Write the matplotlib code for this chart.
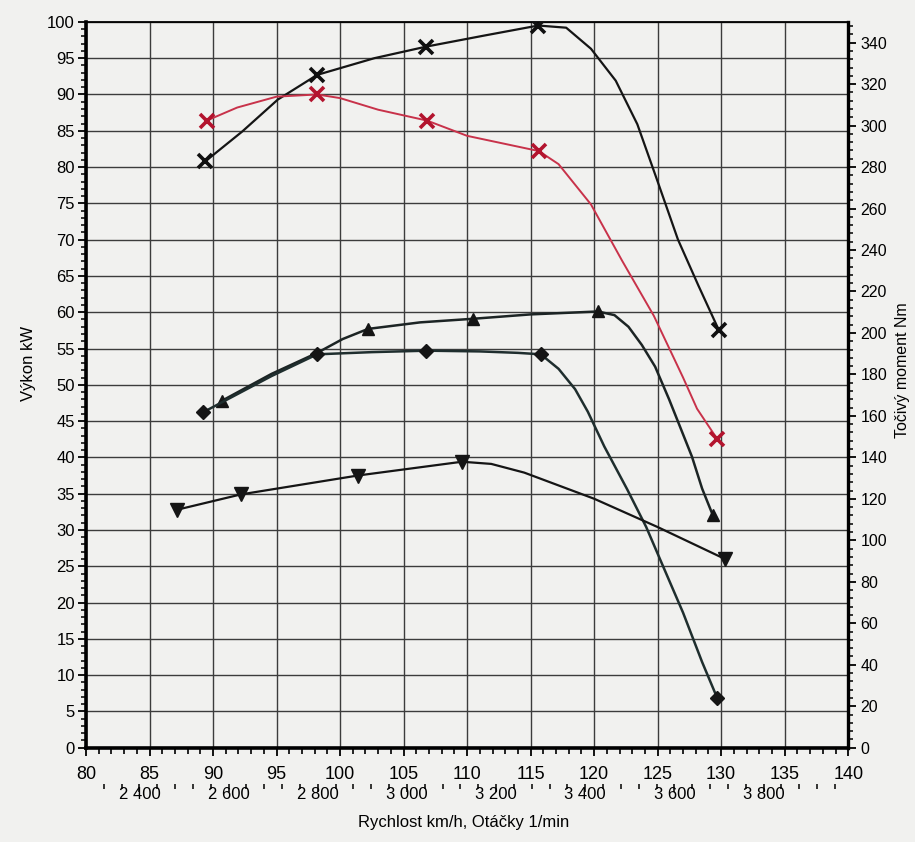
import numpy as np
import matplotlib.pyplot as plt
from matplotlib.ticker import MultipleLocator, FixedLocator, FuncFormatter

plt.rcParams['font.family'] = ['Liberation Sans', 'DejaVu Sans']

# speed (km/h) -> engine speed (1/min)
RPM_PER_KMH = 28.5

# curve with black x markers
blackx_v = [89.4, 92.3, 95.1, 98.2, 102.7, 106.8, 111.3, 115.6, 117.8, 119.75,
            121.7, 123.4, 125.0, 126.6, 128.2, 129.8]
blackx_p = [80.8, 84.9, 89.3, 92.7, 95.0, 96.6, 98.1, 99.5, 99.2, 96.3,
            91.9, 85.9, 78.0, 70.0, 63.7, 57.6]
blackx_marks = [0, 3, 5, 7, 15]

# curve with red x markers
redx_v = [89.5, 91.9, 95.0, 98.2, 100.0, 103.0, 106.85, 110.0, 115.65, 117.2,
          119.75, 122.2, 124.7, 127.0, 128.1, 129.7]
redx_p = [86.4, 88.2, 89.7, 90.0, 89.5, 87.9, 86.4, 84.3, 82.2, 80.4,
          74.85, 67.1, 59.5, 51.0, 46.7, 42.5]
redx_marks = [0, 3, 6, 8, 15]

# curve with triangle-up markers
triup_v = [90.7, 94.6, 98.2, 100.2, 102.2, 106.3, 110.5, 115.0, 120.3, 121.6,
           122.7, 123.75, 124.8, 125.9, 127.7, 128.5, 129.35]
triup_p = [47.8, 51.5, 54.4, 56.3, 57.7, 58.6, 59.1, 59.7, 60.1, 59.6,
           58.0, 55.5, 52.5, 48.0, 40.1, 35.7, 32.0]
triup_marks = [0, 4, 6, 8, 16]

# curve with diamond markers
diam_v = [89.2, 94.6, 98.2, 102.5, 106.8, 111.0, 114.0, 115.8, 117.2, 118.5,
          119.5, 120.8, 122.6, 124.1, 125.4, 127.0, 128.5, 129.7]
diam_p = [46.2, 51.2, 54.2, 54.5, 54.7, 54.6, 54.4, 54.2, 52.2, 49.4,
          46.3, 41.5, 35.6, 30.4, 25.1, 18.6, 11.8, 6.8]
diam_marks = [0, 2, 4, 7, 17]

# curve with triangle-down markers
tridn_v = [87.2, 92.2, 101.4, 109.6, 111.9, 114.5, 120.0, 125.0, 130.3]
tridn_p = [32.8, 34.9, 37.5, 39.4, 39.1, 37.9, 34.3, 30.4, 26.0]
tridn_marks = [0, 1, 2, 3, 8]

rpm_major = [2400, 2600, 2800, 3000, 3200, 3400, 3600, 3800]
rpm_minor = [r for r in range(2320, 3961, 40) if r not in rpm_major]

paper = '#f1f1ef'
fig = plt.figure(figsize=(9.15, 8.42), dpi=100, facecolor=paper)
ax = fig.add_axes([0.094, 0.112, 0.833, 0.862], facecolor=paper)

ax.plot(blackx_v, blackx_p, color='#151515', lw=1.6, marker='x', markevery=blackx_marks,
        ms=10, mew=2.6, mec='#101010', zorder=4)
ax.plot(redx_v, redx_p, color='#c8324a', lw=1.4, marker='x', markevery=redx_marks,
        ms=10, mew=2.6, mec='#b3142e', zorder=4)
ax.plot(triup_v, triup_p, color='#1c2424', lw=1.8, marker='^', markevery=triup_marks,
        ms=9, mfc='#151515', mec='#151515', zorder=4)
ax.plot(diam_v, diam_p, color='#1f2e2e', lw=1.8, marker='D', markevery=diam_marks,
        ms=7, mfc='#151515', mec='#151515', zorder=4)
ax.plot(tridn_v, tridn_p, color='#151515', lw=1.6, marker='v', markevery=tridn_marks,
        ms=10, mfc='#151515', mec='#151515', zorder=4)

ax.set_xlim(80, 140)
ax.set_ylim(0, 100)
ax.xaxis.set_major_locator(MultipleLocator(5))
ax.xaxis.set_minor_locator(MultipleLocator(1))
ax.yaxis.set_major_locator(MultipleLocator(5))
ax.yaxis.set_minor_locator(MultipleLocator(1))
ax.grid(True, which='major', color='#3c3c3c', lw=1.0)
ax.tick_params(axis='x', which='major', direction='out', length=6, width=1.3,
               labelsize=13, pad=7)
ax.tick_params(axis='x', which='minor', direction='out', length=4, width=1.2)
ax.tick_params(axis='y', which='major', direction='out', length=6, width=1.3,
               labelsize=12, pad=2)
ax.tick_params(axis='y', which='minor', direction='out', length=3.5, width=1.1)
ax.set_ylabel('Výkon kW', fontsize=12)
ax.yaxis.set_label_coords(-0.066, 0.53)

ax.spines['left'].set_linewidth(2.6)
ax.spines['bottom'].set_linewidth(2.6)
ax.spines['top'].set_linewidth(1.3)
ax.spines['right'].set_visible(False)

ax2 = ax.twinx()
ax2.set_ylim(0, 350)
ax2.yaxis.set_major_locator(FixedLocator(list(range(0, 341, 20))))
ax2.yaxis.set_minor_locator(MultipleLocator(4))
ax2.tick_params(axis='y', which='major', direction='out', length=6, width=1.3,
                labelsize=11.5, pad=3)
ax2.tick_params(axis='y', which='minor', direction='out', length=3.5, width=1.1)
for s in ['left', 'top', 'bottom']:
    ax2.spines[s].set_visible(False)
ax2.spines['right'].set_linewidth(2.4)
ax2.set_ylabel('Točivý moment Nm', fontsize=11.5)
ax2.yaxis.set_label_coords(1.061, 0.52)

sec = ax.secondary_xaxis(-0.05, functions=(lambda v: v * RPM_PER_KMH,
                                            lambda r: r / RPM_PER_KMH))
sec.spines['bottom'].set_visible(False)
sec.xaxis.set_major_locator(FixedLocator(rpm_major))
sec.xaxis.set_minor_locator(FixedLocator(rpm_minor))
sec.xaxis.set_major_formatter(FuncFormatter(lambda r, pos: f'{int(r) // 1000} {int(r) % 1000:03d}'))
sec.tick_params(which='major', direction='out', length=5.5, width=1.1, labelsize=12, pad=-3)
sec.tick_params(which='minor', direction='out', length=3.5, width=1.1)

fig.text(0.507, 1 - 823 / 842, 'Rychlost km/h, Otáčky 1/min', ha='center', va='center',
         fontsize=12)

fig.savefig('out.png', dpi=100, facecolor=paper)
